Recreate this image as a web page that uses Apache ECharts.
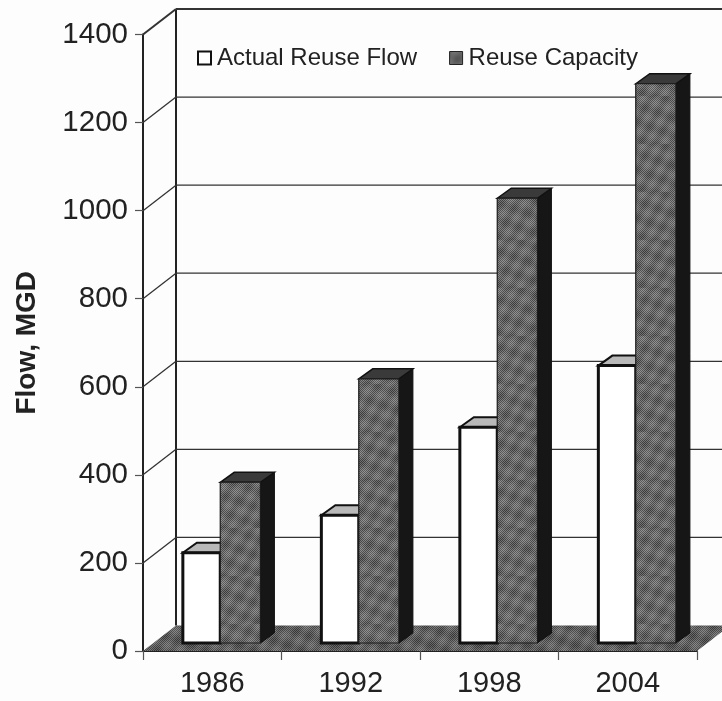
<!DOCTYPE html>
<html><head><meta charset="utf-8">
<style>html,body{margin:0;padding:0;background:#fdfdfd}#c{width:722px;height:701px}</style>
<script src="https://cdn.jsdelivr.net/npm/echarts@6/dist/echarts.min.js"></script>
</head><body><div id="c"></div>
<script>
const categories = ['1986','1992','1998','2004'];
const actualReuseFlow = [205,290,490,630];
const reuseCapacity = [365,600,1010,1270];
const yTicks = [0,200,400,600,800,1000,1200,1400];
const axisTitle = 'Flow, MGD';
const seriesNames = ['Actual Reuse Flow','Reuse Capacity'];

const WALL_DX = 33, WALL_DY = -25.5;
const BASE_DX = 8, BASE_DY = -8;
const BAR_DX = 14, BAR_DY = -10;
const FONT = '"Liberation Sans", Arial, sans-serif';

function stipple(low, high) {
  const n = 48, cv = document.createElement('canvas');
  cv.width = cv.height = n;
  const g = cv.getContext('2d');
  for (let y = 0; y < n; y++) for (let x = 0; x < n; x++) {
    const lump = Math.sin(x * 0.41 + y * 0.23) + Math.sin(x * 0.13 - y * 0.37);
    const v = ((x + y) % 2 ? high : low) + lump * 9;
    const c = Math.round(v);
    g.fillStyle = 'rgb(' + c + ',' + c + ',' + c + ')';
    g.fillRect(x, y, 1, 1);
  }
  return { image: cv, repeat: 'repeat' };
}
const darkFill = stipple(75, 130);
const floorFill = stipple(70, 120);

function poly(points, style, z2) {
  return { type: 'polygon', shape: { points }, style, z2: z2 || 0 };
}
function seg(x1, y1, x2, y2, stroke, lineWidth) {
  return { type: 'line', shape: { x1, y1, x2, y2 }, style: { stroke, lineWidth } };
}

function renderWalls(params, api) {
  const cs = params.coordSys;
  const v = api.value(1);
  const y = api.coord([0, v])[1];
  const x0 = cs.x, x1 = cs.x + cs.width;
  const kids = [];
  if (v === 0) {
    kids.push(poly([[x0, y], [x0 + WALL_DX, y + WALL_DY], [x1 + WALL_DX, y + WALL_DY], [x1, y]],
      { fill: floorFill, stroke: 'none' }));
    const top = api.coord([0, yTicks[yTicks.length - 1]])[1];
    kids.push(seg(x0 + WALL_DX, y + WALL_DY, x0 + WALL_DX, top + WALL_DY, '#222', 2));
  } else {
    const top = v === yTicks[yTicks.length - 1];
    kids.push(seg(x0, y, x0 + WALL_DX, y + WALL_DY, '#333', top ? 2 : 1.3));
    kids.push(seg(x0 + WALL_DX, y + WALL_DY, x1 + WALL_DX, y + WALL_DY, '#333', top ? 2 : 1.3));
  }
  return { type: 'group', children: kids };
}

function barRenderer(kind) {
  return function (params, api) {
    const base = api.coord([api.value(0), 0]);
    const topP = api.coord([api.value(0), api.value(1)]);
    const band = api.size([1, 0])[0];
    const w = band * (kind === 0 ? 0.27 : 0.29);
    const yb = base[1] + BASE_DY, yt = topP[1] + BASE_DY;
    const xl = kind === 0 ? base[0] + BASE_DX - w : base[0] + BASE_DX;
    const xr = xl + w;
    const frontStyle = kind === 0
      ? { fill: '#ffffff', stroke: '#111', lineWidth: 3 }
      : { fill: darkFill, stroke: '#1c1c1c', lineWidth: 1.2 };
    const topStyle = kind === 0
      ? { fill: '#b9b9b9', stroke: '#111', lineWidth: 2 }
      : { fill: '#3a3a3a', stroke: '#111', lineWidth: 1.5 };
    return { type: 'group', children: [
      poly([[xr, yb], [xr, yt], [xr + BAR_DX, yt + BAR_DY], [xr + BAR_DX, yb + BAR_DY]],
        { fill: '#161616', stroke: '#111', lineWidth: 1 }),
      poly([[xl, yt], [xl + BAR_DX, yt + BAR_DY], [xr + BAR_DX, yt + BAR_DY], [xr, yt]], topStyle),
      { type: 'rect', shape: { x: xl, y: yt, width: w, height: yb - yt }, style: frontStyle }
    ] };
  };
}

const chart = echarts.init(document.getElementById('c'), null, { renderer: 'canvas' });
chart.setOption({
  animation: false,
  backgroundColor: '#fdfdfd',
  grid: { left: 143, top: 34.5, width: 554, height: 616.5 },
  legend: {
    left: 192, top: 41, itemWidth: 13, itemHeight: 13, itemGap: 32,
    data: seriesNames.map((name, i) => ({
      name, icon: 'rect',
      itemStyle: i === 0 ? { color: '#fff', borderColor: '#111', borderWidth: 2 }
                         : { color: darkFill, borderColor: '#222', borderWidth: 1 }
    })),
    textStyle: { fontFamily: FONT, fontSize: 24, color: '#222', padding: [0, 0, 0, 1] }
  },
  xAxis: {
    type: 'category', data: categories, boundaryGap: true,
    axisLine: { show: true, lineStyle: { color: '#222', width: 2 } },
    axisTick: { show: true, length: 9, lineStyle: { color: '#555', width: 1.2 } },
    axisLabel: { fontFamily: FONT, fontSize: 29, color: '#222', margin: 18 }
  },
  yAxis: {
    type: 'value', min: 0, max: 1400, interval: 200,
    name: axisTitle, nameLocation: 'middle', nameGap: 102, nameRotate: 90,
    nameTextStyle: { fontFamily: FONT, fontSize: 28, fontWeight: 'bold', color: '#222' },
    axisLine: { show: true, lineStyle: { color: '#222', width: 2 } },
    axisTick: { show: true, length: 8, lineStyle: { color: '#555', width: 1.2 } },
    axisLabel: { fontFamily: FONT, fontSize: 29.5, color: '#222', margin: 15, formatter: v => String(v) },
    splitLine: { show: false }
  },
  series: [
    { type: 'custom', name: 'walls', silent: true, renderItem: renderWalls, z: 1,
      data: yTicks.map(v => [0, v]), encode: { x: 0, y: 1 } },
    { type: 'custom', name: seriesNames[0], renderItem: barRenderer(0), z: 2,
      data: actualReuseFlow.map((v, i) => [i, v]), encode: { x: 0, y: 1 } },
    { type: 'custom', name: seriesNames[1], renderItem: barRenderer(1), z: 3,
      data: reuseCapacity.map((v, i) => [i, v]), encode: { x: 0, y: 1 } }
  ]
});
</script></body></html>
